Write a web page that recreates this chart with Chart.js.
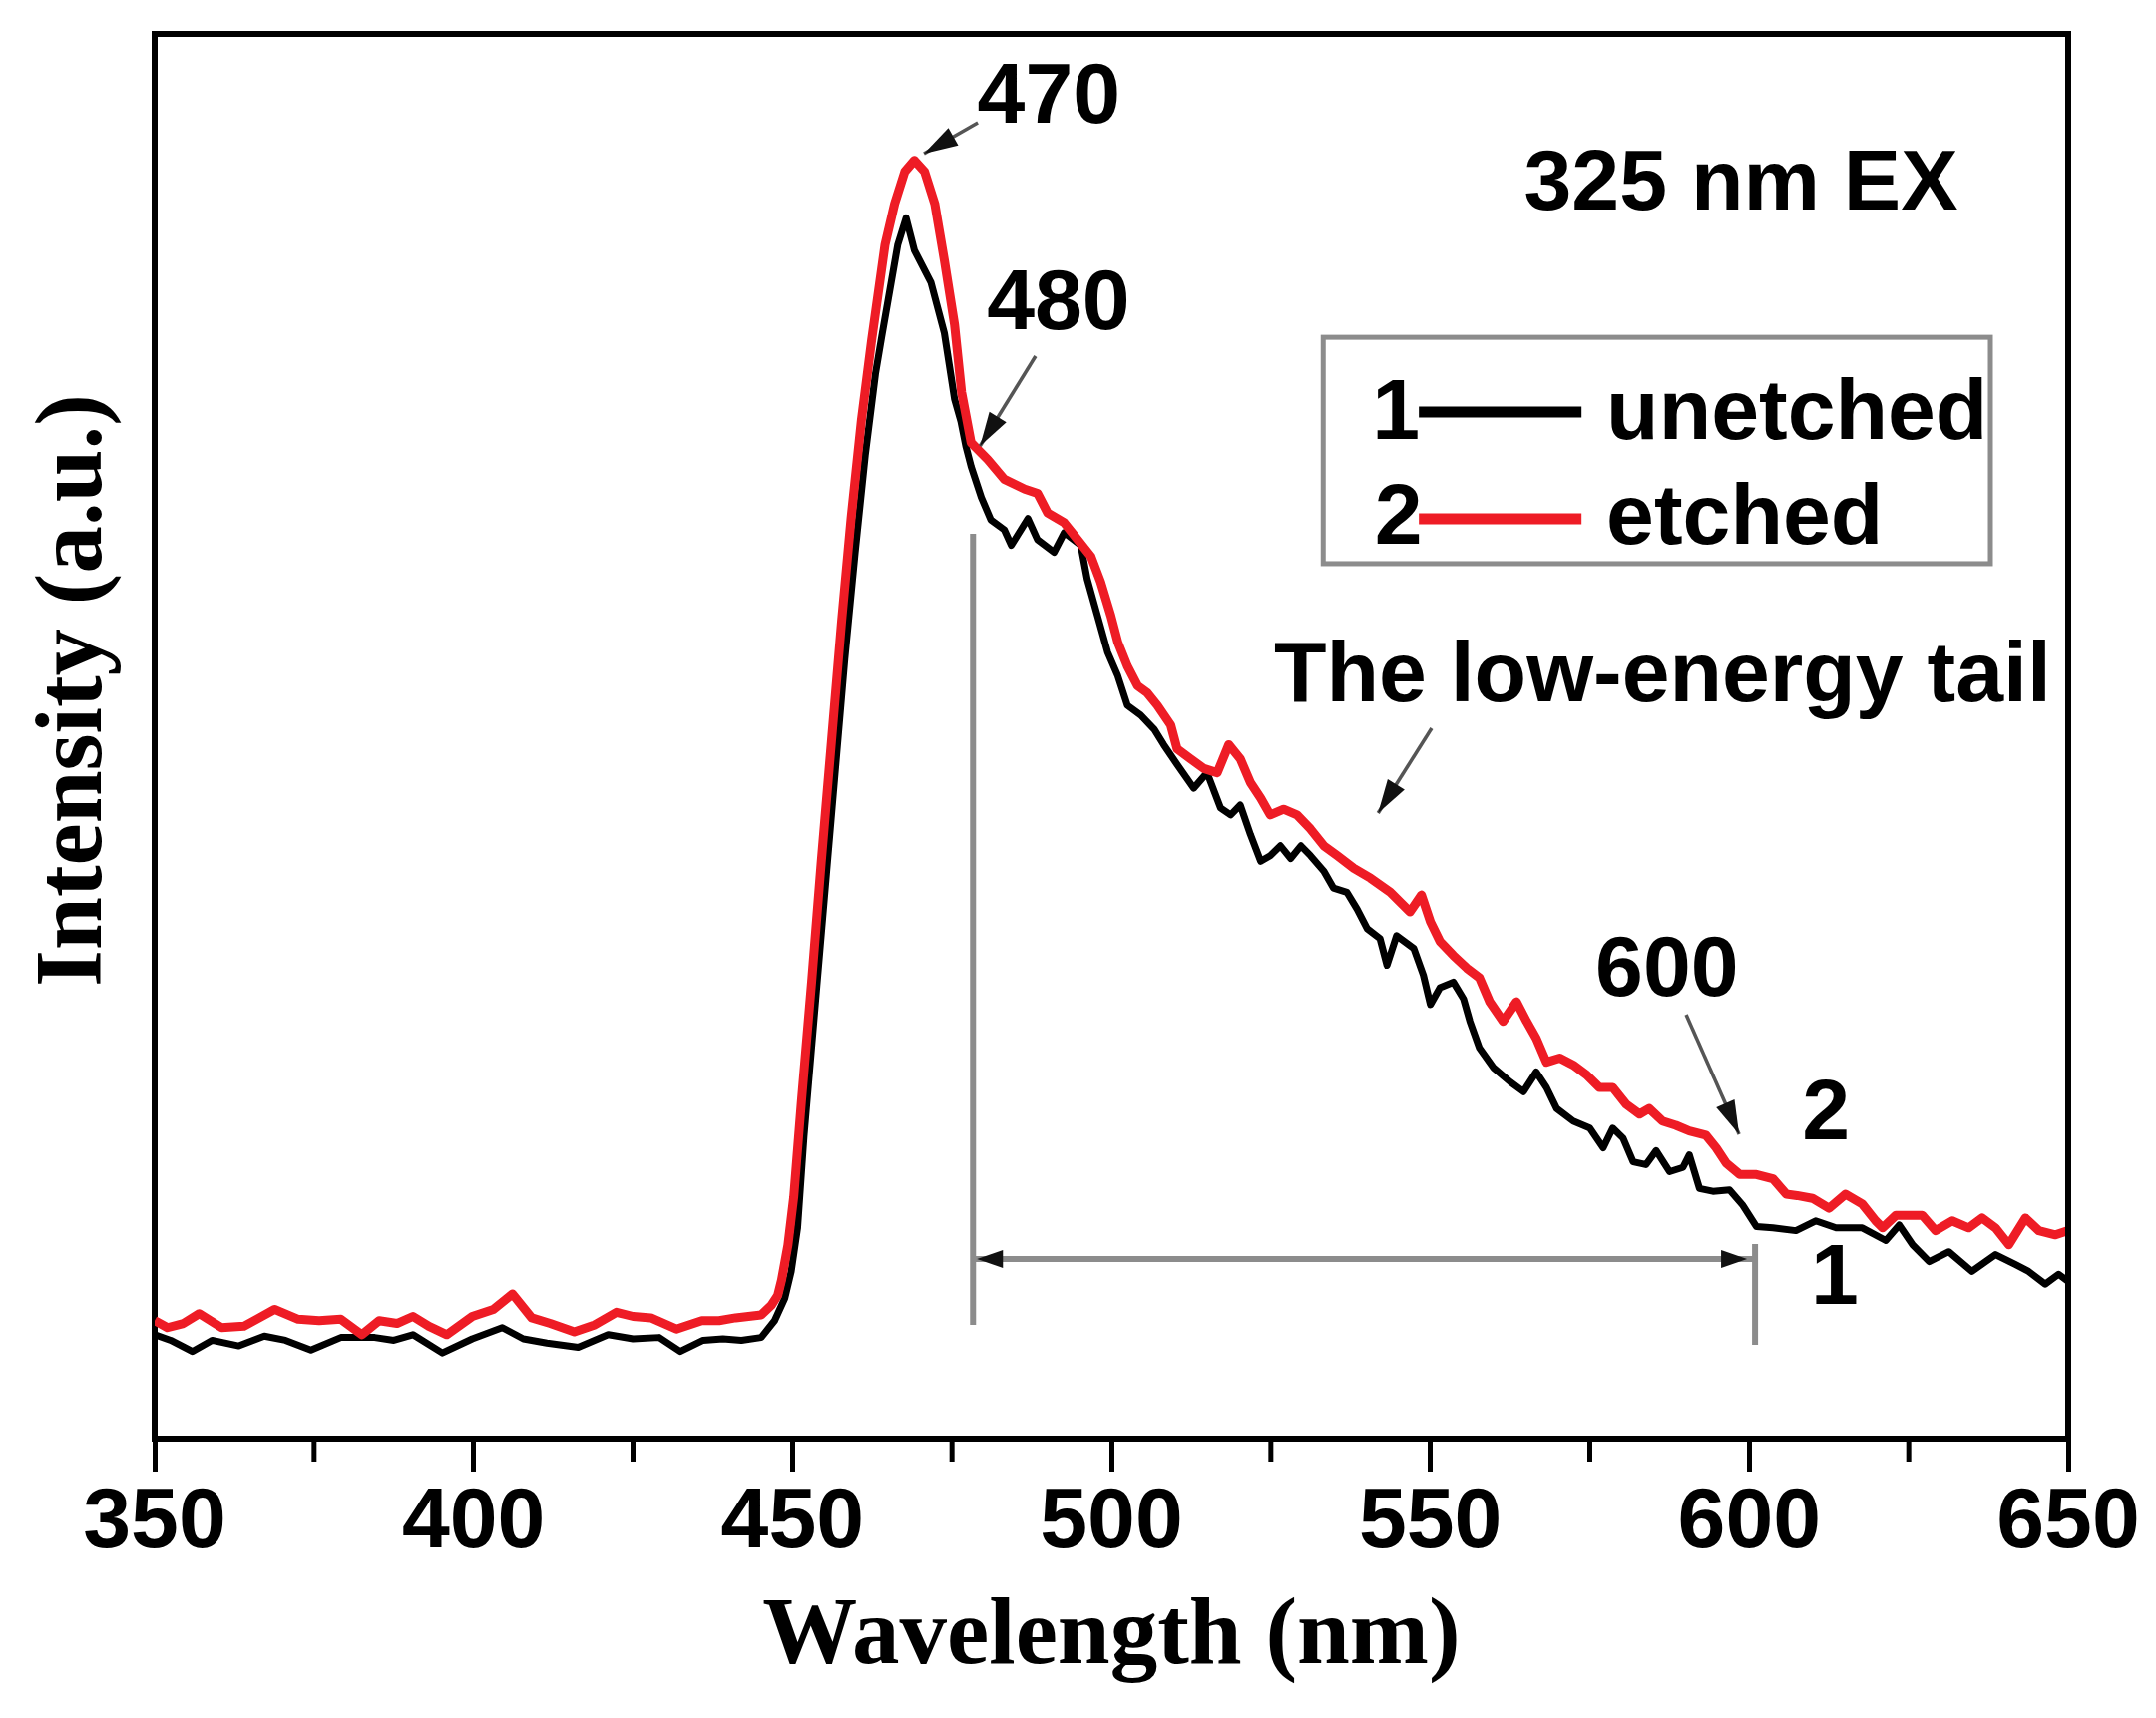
<!DOCTYPE html>
<html>
<head>
<meta charset="utf-8">
<script src="https://cdn.jsdelivr.net/npm/chart.js@4.4.1/dist/chart.umd.min.js"></script>
<style>
html, body { margin: 0; padding: 0; background: #fff; }
canvas { display: block; }
</style>
</head>
<body>
<canvas id="c" width="2161" height="1722"></canvas>
<script>
// ---------------- data ----------------
const xMajorTicks = [350, 400, 450, 500, 550, 600, 650];

const etchedWavelength = [
  350, 352, 354.5, 357, 360.5, 364, 366, 368.8, 372.5, 375.8,
  379.2, 382.5, 385.2, 388, 390.5, 393, 395.8, 399.8, 403.1, 406.1,
  409.1, 412, 415.8, 419, 422.4, 425, 427.8, 431.8, 435.8, 438.5,
  441.1, 445.1, 446.7, 447.7, 448.3, 449.3, 450.2, 451.4, 453, 454.5,
  456.1, 457.7, 459.2, 460.8, 462.4, 464.5, 466, 467.6, 469.1, 470.7,
  472.3, 473.8, 475.4, 476.5, 478, 480.6, 483.2, 486.4, 488.4, 490,
  492.6, 494.7, 496.8, 498.3, 499.9, 501, 502.5, 504.1, 505.6, 507.2,
  509.3, 510.3, 512.4, 514.5, 516.6, 518.4, 520.2, 521.8, 523.4, 524.9,
  527, 529.1, 531.2, 533.3, 535.4, 538, 540.6, 543.7, 546.8, 548.6,
  550, 551.5, 553.6, 555.7, 557.7, 559.3, 561.4, 563.5, 565.1, 566.6,
  568.2, 570.3, 572.4, 574.5, 576.5, 578.6, 580.7, 582.8, 584.3, 586.4,
  588.5, 590.6, 593.2, 594.8, 596.4, 598.5, 601.1, 603.7, 605.8, 607.5,
  609.9, 612.5, 615.1, 617.7, 619.8, 620.9, 623, 627.1, 629.2, 631.8,
  634.4, 636.5, 638.6, 640.7, 643.3, 645.4, 648, 650
];
const etchedIntensity = [
  84, 79, 82, 89, 79, 80, 85, 92, 85, 84,
  85, 74, 84, 82, 87, 80, 74, 87, 92, 103,
  86, 82, 76, 81, 90, 87, 86, 78, 84, 84,
  86, 88, 95, 102, 113, 138, 172, 240, 325, 410,
  496, 582, 656, 725, 782, 850, 879, 902, 910, 902,
  879, 839, 793, 745, 709, 697, 683, 676, 673, 659,
  652, 640, 628, 610, 586, 567, 550, 536, 531, 522,
  508, 491, 484, 477, 474, 494, 484, 467, 456, 444,
  448, 444, 434, 422, 415, 406, 399, 389, 375, 387,
  368, 354, 344, 335, 328, 311, 297, 311, 297, 285,
  268, 271, 266, 259, 250, 250, 238, 231, 235, 226,
  223, 219, 216, 207, 196, 188, 188, 185, 174, 173,
  171, 164, 174, 167, 155, 150, 159, 159, 148, 155,
  150, 157, 150, 138, 157, 148, 145, 148
];

const unetchedWavelength = [
  350, 352.5, 355.9, 359, 363.2, 367.2, 370.5, 374.5, 379.2, 384.5,
  387.5, 390.5, 395.1, 399.8, 404.5, 407.8, 411.5, 416.4, 421.1, 425,
  429.1, 432.4, 436, 439.1, 442, 445.1, 447.2, 448.8, 449.8, 450.8,
  451.8, 453.4, 455, 456.6, 458.2, 459.8, 461.4, 463, 464, 465,
  466.5, 467.8, 469.1, 471.7, 473.8, 475.4, 476.4, 477.2, 478, 479.6,
  481.1, 483.2, 484.3, 486.9, 488.4, 491, 492.6, 495.2, 496.2, 497.8,
  499.4, 501, 502.5, 504.6, 506.7, 508.2, 510.3, 512.9, 515, 517.1,
  518.7, 520.2, 521.8, 523.4, 524.9, 526.5, 528.1, 529.7, 531.2, 533.3,
  534.8, 536.9, 538.5, 540.1, 542.1, 543.2, 544.7, 547.4, 548.9, 550,
  551.5, 553.6, 555.2, 556.2, 557.7, 559.9, 562.5, 564.6, 566.6, 568.2,
  569.8, 572.4, 575, 577.1, 578.6, 580.2, 581.8, 583.8, 585.4, 587.5,
  589.6, 590.6, 592.2, 594.3, 596.9, 599, 601.1, 603.7, 607.3, 610.4,
  613.6, 617.7, 621.4, 623.5, 625.6, 628.2, 631.3, 634.9, 638.6, 641.7,
  643.8, 646.4, 648.5, 650
];
const unetchedIntensity = [
  74, 70, 62, 70, 66, 73, 70, 63, 72, 72,
  70, 74, 61, 71, 79, 71, 68, 65, 74, 71,
  72, 62, 70, 71, 70, 72, 84, 100, 119, 150,
  215, 300, 385, 470, 555, 630, 700, 758, 785, 811,
  850, 869, 846, 823, 787, 740, 724, 706, 692, 670,
  654, 647, 636, 655, 640, 631, 645, 636, 612, 586,
  560, 543, 522, 515, 505, 494, 480, 463, 474, 449,
  444, 451, 430, 411, 415, 422, 413, 422, 415, 404,
  392, 389, 377, 363, 356, 337, 358, 349, 330, 309,
  321, 325, 313, 297, 278, 264, 254, 247, 261, 250,
  235, 226, 221, 207, 221, 214, 197, 195, 205, 190,
  193, 202, 178, 176, 177, 166, 151, 150, 148, 155,
  150, 150, 141, 152, 138, 126, 133, 119, 131, 124,
  119, 110, 117, 112
];

// ---------------- annotations (in data units) ----------------
const textNotes = [
  { text: '470', x: 490.2, y: 936.8 },
  { text: '480', x: 491.7, y: 789.8 },
  { text: '325 nm EX', x: 598.7, y: 875.0 },
  { text: 'The low-energy tail', x: 586.4, y: 524.9 },
  { text: '600', x: 587.1, y: 315.3 },
  { text: '2', x: 612.0, y: 213.0 },
  { text: '1', x: 613.4, y: 95.9 }
];
const pointerArrows = [
  { from: [479.05, 936.8], to: [470.6, 914.8] },
  { from: [488.1, 770.6], to: [479.4, 706.7] },
  { from: [550.2, 505.7], to: [541.8, 445.3] },
  { from: [590.1, 301.8], to: [598.4, 216.6] }
];
const rangeMarker = { left: 478.3, right: 600.9, leftTop: 644.2, leftBottom: 81, rightTop: 138.5, rightBottom: 66.8, level: 127.8 };
const legendBox = { x1: 533.2, x2: 637.8, y1: 784, y2: 622.9 };
const legendRows = [
  { num: '1', label: 'unetched', numX: 544.6, lineX1: 548.2, lineX2: 573.7, lineY: 730.8, textX: 577.6, baseY: 711.6, color: '#000000' },
  { num: '2', label: 'etched', numX: 545.0, lineX1: 548.2, lineX2: 573.7, lineY: 654.8, textX: 577.6, baseY: 637.1, color: '#ee1c25' }
];

// ---------------- styles ----------------
const SANS = '"Liberation Sans", Arial, Helvetica, sans-serif';
const SERIF = '"Liberation Serif", "Times New Roman", Times, serif';
const RED = '#ee1c25';

function toPoints(xs, ys) { return xs.map((x, i) => ({ x: x, y: ys[i] })); }

function arrowHead(ctx, x1, y1, x2, y2, len, half, color) {
  const a = Math.atan2(y2 - y1, x2 - x1);
  ctx.save();
  ctx.fillStyle = color;
  ctx.beginPath();
  ctx.moveTo(x2, y2);
  ctx.lineTo(x2 - len * Math.cos(a) + half * Math.sin(a), y2 - len * Math.sin(a) - half * Math.cos(a));
  ctx.lineTo(x2 - len * Math.cos(a) - half * Math.sin(a), y2 - len * Math.sin(a) + half * Math.cos(a));
  ctx.closePath();
  ctx.fill();
  ctx.restore();
}

const decorPlugin = {
  id: 'decor',
  afterDraw(chart) {
    const { ctx, chartArea: ca, scales } = chart;
    const X = v => scales.x.getPixelForValue(v);
    const Y = v => scales.y.getPixelForValue(v);
    ctx.save();

    // top and right frame lines
    ctx.strokeStyle = '#000';
    ctx.lineWidth = 6;
    ctx.beginPath();
    ctx.moveTo(ca.left - 3, ca.top);
    ctx.lineTo(ca.right, ca.top);
    ctx.lineTo(ca.right, ca.bottom + 3);
    ctx.stroke();

    // minor ticks
    ctx.lineWidth = 5;
    scales.x.ticks.forEach(t => {
      if (xMajorTicks.indexOf(t.value) < 0) {
        const px = X(t.value);
        ctx.beginPath();
        ctx.moveTo(px, ca.bottom);
        ctx.lineTo(px, ca.bottom + 23);
        ctx.stroke();
      }
    });

    // range marker (grey dimension line)
    ctx.strokeStyle = '#8c8c8c';
    ctx.lineWidth = 6;
    ctx.beginPath();
    ctx.moveTo(X(rangeMarker.left), Y(rangeMarker.leftTop));
    ctx.lineTo(X(rangeMarker.left), Y(rangeMarker.leftBottom));
    ctx.moveTo(X(rangeMarker.right), Y(rangeMarker.rightTop));
    ctx.lineTo(X(rangeMarker.right), Y(rangeMarker.rightBottom));
    ctx.moveTo(X(rangeMarker.left), Y(rangeMarker.level));
    ctx.lineTo(X(rangeMarker.right), Y(rangeMarker.level));
    ctx.stroke();
    const ly = Y(rangeMarker.level);
    arrowHead(ctx, X(rangeMarker.left) + 40, ly, X(rangeMarker.left) + 4, ly, 26, 9, '#111');
    arrowHead(ctx, X(rangeMarker.right) - 40, ly, X(rangeMarker.right) - 8, ly, 26, 9, '#111');

    // pointer arrows
    pointerArrows.forEach(a => {
      const x1 = X(a.from[0]), y1 = Y(a.from[1]), x2 = X(a.to[0]), y2 = Y(a.to[1]);
      ctx.strokeStyle = '#555';
      ctx.lineWidth = 3.5;
      ctx.beginPath();
      ctx.moveTo(x1, y1);
      ctx.lineTo(x2, y2);
      ctx.stroke();
      arrowHead(ctx, x1, y1, x2, y2, 34, 10, '#111');
    });

    // text notes
    ctx.fillStyle = '#000';
    ctx.font = 'bold 86px ' + SANS;
    ctx.textAlign = 'center';
    ctx.textBaseline = 'alphabetic';
    textNotes.forEach(n => ctx.fillText(n.text, X(n.x), Y(n.y)));

    // legend
    ctx.strokeStyle = '#8c8c8c';
    ctx.lineWidth = 5;
    ctx.strokeRect(X(legendBox.x1), Y(legendBox.y1), X(legendBox.x2) - X(legendBox.x1), Y(legendBox.y2) - Y(legendBox.y1));
    legendRows.forEach(r => {
      ctx.strokeStyle = r.color;
      ctx.lineWidth = 11;
      ctx.beginPath();
      ctx.moveTo(X(r.lineX1), Y(r.lineY));
      ctx.lineTo(X(r.lineX2), Y(r.lineY));
      ctx.stroke();
      ctx.fillStyle = '#000';
      ctx.textAlign = 'center';
      ctx.fillText(r.num, X(r.numX), Y(r.baseY));
      ctx.textAlign = 'left';
      ctx.fillText(r.label, X(r.textX), Y(r.baseY));
    });

    // y-axis title
    ctx.save();
    ctx.translate(101, (ca.top + ca.bottom) / 2 - 46);
    ctx.rotate(-Math.PI / 2);
    ctx.font = 'bold 95px ' + SERIF;
    ctx.textAlign = 'center';
    ctx.textBaseline = 'alphabetic';
    ctx.fillStyle = '#000';
    ctx.fillText('Intensity (a.u.)', 0, 0);
    ctx.restore();

    ctx.restore();
  }
};

new Chart(document.getElementById('c'), {
  type: 'line',
  data: {
    datasets: [
      { label: 'unetched', data: toPoints(unetchedWavelength, unetchedIntensity), borderColor: '#000000', borderWidth: 7, borderJoinStyle: 'round', pointRadius: 0, tension: 0, order: 2, fill: false },
      { label: 'etched', data: toPoints(etchedWavelength, etchedIntensity), borderColor: RED, borderWidth: 9, borderJoinStyle: 'round', pointRadius: 0, tension: 0, order: 1, fill: false }
    ]
  },
  options: {
    responsive: false,
    animation: false,
    devicePixelRatio: 1,
    layout: { padding: { top: 34, right: 88, bottom: 0, left: 0 } },
    plugins: { legend: { display: false }, tooltip: { enabled: false } },
    scales: {
      x: {
        type: 'linear',
        min: 350,
        max: 650,
        ticks: {
          stepSize: 25,
          autoSkip: false,
          maxRotation: 0,
          padding: 1,
          color: '#000',
          font: { family: SANS, size: 86, weight: 'bold' },
          callback: v => (xMajorTicks.indexOf(v) >= 0 ? String(v) : '')
        },
        grid: {
          display: true,
          drawOnChartArea: false,
          drawTicks: true,
          tickLength: 33,
          tickWidth: 5,
          tickColor: c => (c.tick && xMajorTicks.indexOf(c.tick.value) >= 0 ? '#000' : 'rgba(0,0,0,0)')
        },
        border: { display: true, color: '#000', width: 6 },
        title: {
          display: true,
          text: 'Wavelength (nm)',
          color: '#000',
          font: { family: SERIF, size: 95, weight: 'bold', lineHeight: 1.2 },
          padding: { top: 0, bottom: 23 }
        },
        afterFit: s => { s.height = 280; s.paddingLeft = 0; s.paddingRight = 0; }
      },
      y: {
        type: 'linear',
        min: 0,
        max: 1000,
        ticks: { display: false },
        grid: { display: false },
        border: { display: true, color: '#000', width: 6 },
        afterFit: s => { s.width = 155; }
      }
    }
  },
  plugins: [decorPlugin]
});
</script>
</body>
</html>
